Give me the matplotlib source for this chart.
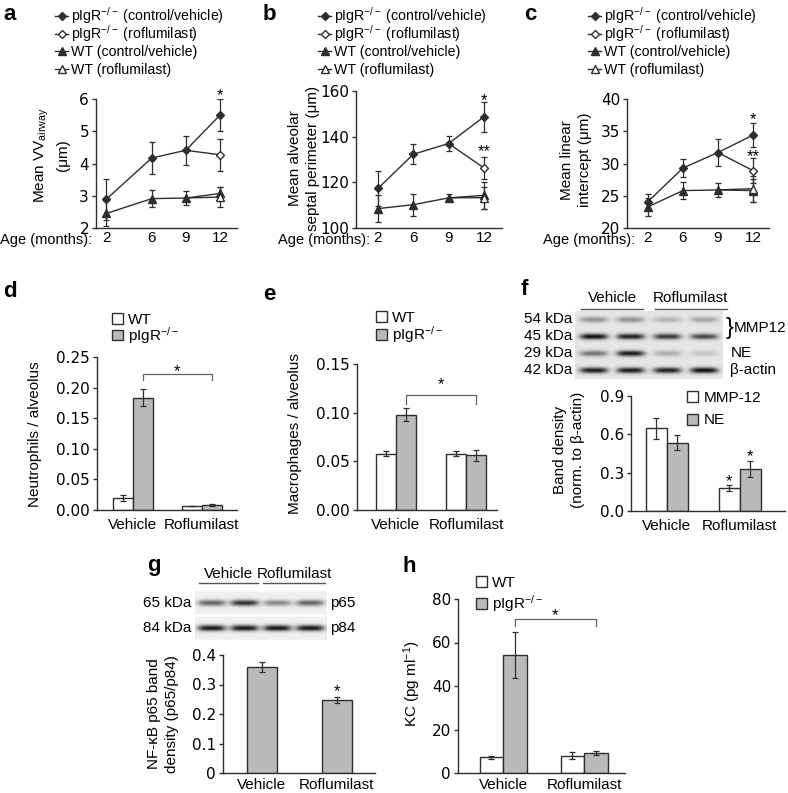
import numpy as np
import matplotlib.pyplot as plt
from matplotlib.patches import Patch
from matplotlib.lines import Line2D

plt.rcParams['font.family'] = ['Liberation Sans', 'DejaVu Sans']
plt.rcParams['mathtext.fontset'] = 'custom'
plt.rcParams['mathtext.rm'] = 'Liberation Sans'
plt.rcParams['mathtext.it'] = 'Liberation Sans:italic'
plt.rcParams['mathtext.bf'] = 'Liberation Sans:bold'
plt.rcParams['font.size'] = 11
plt.rcParams['axes.linewidth'] = 1.0

INK = '#2e2e2e'
GREY = '#bababa'
KO = r'pIgR$^{-/-}$'

# ---- a-c: lung morphometry by age ----
ages = [2, 6, 9, 12]
rofl_ages = [9, 12]

vv_ko_ctrl = [2.89, 4.17, 4.41, 5.50]
vv_ko_ctrl_err = [0.64, 0.50, 0.45, 0.50]
vv_ko_rofl = [4.41, 4.27]
vv_ko_rofl_err = [0.50]
vv_wt_ctrl = [2.45, 2.91, 2.93, 3.07]
vv_wt_ctrl_err = [0.38, 0.26, 0.22, 0.20]
vv_wt_rofl = [2.93, 2.96]
vv_wt_rofl_err = [0.31]

sp_ko_ctrl = [117.3, 132.3, 137.0, 148.7]
sp_ko_ctrl_err = [7.6, 4.3, 3.2, 6.5]
sp_ko_rofl = [137.0, 126.3]
sp_ko_rofl_err = [4.9]
sp_wt_ctrl = [108.5, 110.2, 113.2, 114.3]
sp_wt_ctrl_err = [6.0, 4.9, 1.5, 6.0]
sp_wt_rofl = [113.2, 113.3]
sp_wt_rofl_err = [4.8]

li_ko_ctrl = [24.1, 29.3, 31.7, 34.4]
li_ko_ctrl_err = [1.2, 1.35, 2.1, 1.9]
li_ko_rofl = [31.7, 28.9]
li_ko_rofl_err = [1.9]
li_wt_ctrl = [23.3, 25.8, 25.9, 25.8]
li_wt_ctrl_err = [1.4, 1.3, 1.1, 1.8]
li_wt_rofl = [25.9, 26.1]
li_wt_rofl_err = [2.0]

# ---- d-h: bar data ----
groups = ['Vehicle', 'Roflumilast']

neut_wt = [0.020, 0.0065]
neut_wt_err = [0.0045, 0.0006]
neut_ko = [0.1835, 0.0087]
neut_ko_err = [0.0135, 0.0015]

mac_wt = [0.058, 0.058]
mac_wt_err = [0.003, 0.003]
mac_ko = [0.098, 0.056]
mac_ko_err = [0.0068, 0.006]

mmp12 = [0.647, 0.178]
mmp12_err = [0.083, 0.025]
ne = [0.534, 0.329]
ne_err = [0.060, 0.065]

p65_ratio = [0.358, 0.247]
p65_ratio_err = [0.017, 0.011]

kc_wt = [7.2, 8.0]
kc_wt_err = [0.8, 1.7]
kc_ko = [54.1, 9.2]
kc_ko_err = [10.6, 1.1]

# western blot band darkness (rows x lanes)
blot_f_rows = ['54 kDa', '45 kDa', '29 kDa', '42 kDa']
blot_f = [[0.33, 0.33, 0.20, 0.26],
          [0.85, 0.78, 0.68, 0.62],
          [0.45, 0.80, 0.22, 0.14],
          [0.80, 0.80, 0.78, 0.85]]
blot_g_rows = ['65 kDa', '84 kDa']
blot_g = [[0.55, 0.75, 0.40, 0.55],
          [0.85, 0.85, 0.85, 0.85]]

W, H = 788, 793
fig = plt.figure(figsize=(W / 100, H / 100), dpi=100)


def px_axes(left, top, right, bottom):
    return fig.add_axes([left / W, 1 - bottom / H, (right - left) / W, (bottom - top) / H])


def fx(x):
    return x / W


def fy(y):
    return 1 - y / H


def style(ax, ylim, yticks, fmt=None, xpad=5.5):
    for s in ['top', 'right']:
        ax.spines[s].set_visible(False)
    for s in ['left', 'bottom']:
        ax.spines[s].set_color(INK)
    ax.set_ylim(*ylim)
    ax.set_yticks(yticks)
    if fmt:
        ax.set_yticklabels([fmt % t for t in yticks])
    ax.tick_params(axis='y', direction='out', length=3, width=1, pad=2, colors=INK,
                   labelcolor='black', labelfontfamily='DejaVu Sans', labelsize=11)
    ax.tick_params(axis='x', length=0, pad=xpad)


def star(ax, x, y, s='*'):
    # y is where the centre of the asterisk should sit
    ax.annotate(s, (x, y), xytext=(0, -7), textcoords='offset points',
                ha='center', va='baseline', fontsize=12, annotation_clip=False)


def line_panel(ax, xs, rx, ko_c, ko_ce, ko_r, ko_re, wt_c, wt_ce, wt_r, wt_re):
    ebkw = dict(fmt='none', ecolor=INK, elinewidth=0.9, capsize=2.5, capthick=0.9, zorder=2)
    ax.errorbar(xs, wt_c, yerr=wt_ce, **ebkw)
    ax.errorbar(rx[1:], wt_r[1:], yerr=wt_re, **ebkw)
    ax.errorbar(xs, ko_c, yerr=ko_ce, **ebkw)
    ax.errorbar(rx[1:], ko_r[1:], yerr=ko_re, **ebkw)
    ax.plot(xs, wt_c, color=INK, lw=1, marker='^', ms=6, mfc=INK, mec=INK, zorder=3)
    ax.plot(rx, wt_r, color=INK, lw=1, marker='^', ms=6, mfc='white', mec=INK, markevery=[1], zorder=3)
    ax.plot(xs, ko_c, color=INK, lw=1, marker='D', ms=4, mfc=INK, mec=INK, zorder=3)
    ax.plot(rx, ko_r, color=INK, lw=1, marker='D', ms=4, mfc='white', mec=INK, markevery=[1], zorder=3)
    ax.set_xticks(xs)
    ax.set_xticklabels([str(a) for a in ages])


def line_legend(x, y, step=17.7):
    # drawn by hand so that the rows are evenly spaced
    specs = [('D', 4, INK, KO + ' (control/vehicle)'),
             ('D', 4, 'white', KO + ' (roflumilast)'),
             ('^', 6, INK, 'WT (control/vehicle)'),
             ('^', 6, 'white', 'WT (roflumilast)')]
    for i, (m, ms, fc, lab) in enumerate(specs):
        yy = y + i * step
        fig.add_artist(Line2D([fx(x), fx(x + 13)], [fy(yy), fy(yy)], transform=fig.transFigure,
                              color=INK, lw=1))
        fig.add_artist(Line2D([fx(x + 6.5)], [fy(yy)], transform=fig.transFigure, ls='none',
                              marker=m, ms=ms, mfc=fc, mec=INK))
        fig.text(fx(x + 16), fy(yy + 5), lab, ha='left', va='baseline', fontsize=10.2)


def bar_panel(ax, series, errs, colors, width):
    x = np.arange(len(groups))
    n = len(series)
    for i, (v, e, c) in enumerate(zip(series, errs, colors)):
        off = (i - (n - 1) / 2) * width
        ax.bar(x + off, v, width, yerr=e, color=c, edgecolor=INK, lw=1, zorder=2,
               error_kw=dict(ecolor=INK, elinewidth=0.9, capsize=2.5, capthick=0.9))
    ax.set_xticks(x)
    ax.set_xticklabels(groups)


def square_legend(ax, labels, colors, x, y, spacing, size=11):
    handles = [Patch(facecolor=c, edgecolor=INK, lw=1) for c in colors]
    ax.legend(handles, labels, loc='upper left', bbox_to_anchor=(fx(x), fy(y)),
              bbox_transform=fig.transFigure, frameon=False, borderpad=0, borderaxespad=0,
              handlelength=0.72, handleheight=0.72, handletextpad=0.35,
              labelspacing=spacing, fontsize=size)


def bracket(ax, x0, x1, y, drop, star_y):
    ax.plot([x0, x0, x1, x1], [y - drop, y, y, y - drop], color='#666666', lw=0.9, clip_on=False)
    star(ax, (x0 + x1) / 2, star_y)


def draw_blot(ax, bands, band_w, band_h, bg, gap=0.5):
    nrow, nlane = len(bands), len(bands[0])
    X, Y = np.meshgrid(np.linspace(0, nlane, nlane * 40), np.linspace(0, nrow, nrow * 40))
    img = np.full(X.shape, bg)
    for r, row in enumerate(bands):
        for l, v in enumerate(row):
            img -= v * np.exp(-((X - l - 0.5) / band_w) ** 4) * np.exp(-((Y - r - 0.5) / band_h) ** 2)
    img[np.abs((Y % 1) - 0.5) > gap] = 1.0
    ax.imshow(np.clip(img, 0, 1), cmap='gray', vmin=0, vmax=1, extent=(0, nlane, nrow, 0),
              aspect='auto', interpolation='bilinear')
    ax.set_xlim(0, nlane)
    ax.set_ylim(nrow, 0)
    ax.axis('off')


def ylab(x, y, s, ls=1.45):
    fig.text(fx(x), fy(y), s, rotation=90, ha='center', va='center',
             multialignment='center', linespacing=ls, fontsize=11)


def letter(x, y, s):
    fig.text(fx(x), fy(y), s, fontsize=16, fontweight='bold', ha='left', va='center')


# ---- a ----
ax = px_axes(96, 99, 237, 228)
line_panel(ax, ages, rofl_ages, vv_ko_ctrl, vv_ko_ctrl_err, vv_ko_rofl, vv_ko_rofl_err,
           vv_wt_ctrl, vv_wt_ctrl_err, vv_wt_rofl, vv_wt_rofl_err)
style(ax, (2, 6), [2, 3, 4, 5, 6], xpad=2.5)
ax.set_xlim(1.1, 13.5)
star(ax, 12, 6.28)
line_legend(55, 16)
ylab(51, 155, 'Mean VV$_{\\mathrm{airway}}$\n(μm)')
fig.text(fx(92), fy(240), 'Age (months):', ha='right', va='center', fontsize=10.5)
letter(3, 15, 'a')

# ---- b ----
pos = list(range(len(ages)))
ax = px_axes(356, 91, 502, 228)
line_panel(ax, pos, pos[2:], sp_ko_ctrl, sp_ko_ctrl_err, sp_ko_rofl, sp_ko_rofl_err,
           sp_wt_ctrl, sp_wt_ctrl_err, sp_wt_rofl, sp_wt_rofl_err)
style(ax, (100, 160), [100, 120, 140, 160], xpad=2.5)
ax.set_xlim(-0.62, 3.51)
star(ax, 3, 158.2)
star(ax, 3, 135.6, '**')
line_legend(318, 16)
ylab(304, 158, 'Mean alveolar\nseptal perimeter (μm)')
fig.text(fx(370), fy(240), 'Age (months):', ha='right', va='center', fontsize=10.5)
letter(263, 15, 'b')

# ---- c ----
ax = px_axes(627, 99, 769, 228)
line_panel(ax, pos, pos[2:], li_ko_ctrl, li_ko_ctrl_err, li_ko_rofl, li_ko_rofl_err,
           li_wt_ctrl, li_wt_ctrl_err, li_wt_rofl, li_wt_rofl_err)
style(ax, (20, 40), [20, 25, 30, 35, 40], xpad=2.5)
ax.set_xlim(-0.6, 3.46)
star(ax, 3, 37.6)
star(ax, 3, 31.9, '**')
line_legend(588, 16)
ylab(576, 160, 'Mean linear\nintercept (μm)')
fig.text(fx(635), fy(240), 'Age (months):', ha='right', va='center', fontsize=10.5)
letter(524, 15, 'c')

# ---- d ----
w = 0.29
ax = px_axes(97, 357, 237, 510)
bar_panel(ax, [neut_wt, neut_ko], [neut_wt_err, neut_ko_err], ['white', GREY], w)
style(ax, (0, 0.25), [0, 0.05, 0.10, 0.15, 0.20, 0.25], '%.2f')
ax.set_xlim(-0.52, 1.51)
bracket(ax, w / 2, 1 + w / 2, 0.223, 0.011, 0.234)
square_legend(ax, ['WT', KO], ['white', GREY], 112, 313, -0.15)
ylab(35, 434, 'Neutrophils / alveolus')
letter(3, 292, 'd')

# ---- e ----
ax = px_axes(357, 364, 497, 510)
bar_panel(ax, [mac_wt, mac_ko], [mac_wt_err, mac_ko_err], ['white', GREY], w)
style(ax, (0, 0.15), [0, 0.05, 0.10, 0.15], '%.2f')
ax.set_xlim(-0.557, 1.443)
bracket(ax, w / 2, 1 + w / 2, 0.118, 0.009, 0.134)
square_legend(ax, ['WT', KO], ['white', GREY], 376, 311, -0.05)
ylab(295, 434, 'Macrophages / alveolus')
letter(263, 294, 'e')

# ---- f ----
ax = px_axes(631, 396, 785, 511)
bar_panel(ax, [mmp12, ne], [mmp12_err, ne_err], ['white', GREY], w)
style(ax, (0, 0.9), [0, 0.3, 0.6, 0.9], '%.1f')
ax.set_xlim(-0.49, 1.62)
star(ax, 1 - w / 2, 0.268)
star(ax, 1 + w / 2, 0.464)
square_legend(ax, ['MMP-12', 'NE'], ['white', GREY], 687, 391, 0.55)
ylab(569, 450, 'Band density\n(norm. to β-actin)', ls=1.35)
letter(521, 289, 'f')

bx = px_axes(575, 311, 723, 379)
draw_blot(bx, blot_f, 0.38, 0.17, 0.9)
for r, lab in enumerate(blot_f_rows):
    bx.text(-0.08, r + 0.5, lab, ha='right', va='center', fontsize=11, clip_on=False)
bx.text(4.08, 1.0, '}', ha='left', va='center', fontsize=17, clip_on=False)
bx.text(4.3, 1.0, 'MMP12', ha='left', va='center', fontsize=11, clip_on=False)
bx.text(4.2, 2.5, 'NE', ha='left', va='center', fontsize=11, clip_on=False)
bx.text(4.2, 3.5, 'β-actin', ha='left', va='center', fontsize=11, clip_on=False)
for (x0, x1), lab in zip([(0.15, 1.85), (2.15, 4.1)], groups):
    bx.plot([x0, x1], [-0.12, -0.12], color='#555555', lw=1, clip_on=False)
    bx.text((x0 + x1) / 2, -0.75, lab, ha='center', va='center', fontsize=11, clip_on=False)

# ---- g ----
ax = px_axes(223, 655, 375, 773)
bar_panel(ax, [p65_ratio], [p65_ratio_err], [GREY], 0.4)
style(ax, (0, 0.4), [0, 0.1, 0.2, 0.3, 0.4], xpad=3.5)
ax.set_yticklabels(['0', '0.1', '0.2', '0.3', '0.4'])
ax.set_xlim(-0.52, 1.51)
star(ax, 1, 0.293)
ylab(163, 714, 'NF-κB p65 band\ndensity (p65/p84)', ls=1.3)
letter(147, 565, 'g')

bx = px_axes(195, 590, 327, 641)
draw_blot(bx, blot_g, 0.43, 0.12, 0.94, gap=0.46)
for r, lab in enumerate(blot_g_rows):
    bx.text(-0.12, r + 0.5, lab, ha='right', va='center', fontsize=11, clip_on=False)
bx.text(4.08, 0.5, 'p65', ha='left', va='center', fontsize=11, clip_on=False)
bx.text(4.08, 1.5, 'p84', ha='left', va='center', fontsize=11, clip_on=False)
for (x0, x1), lab in zip([(0.12, 1.9), (2.06, 3.94)], groups):
    bx.plot([x0, x1], [-0.26, -0.26], color='#555555', lw=1, clip_on=False)
    bx.text((x0 + x1) / 2, -0.62, lab, ha='center', va='center', fontsize=11, clip_on=False)

# ---- h ----
ax = px_axes(458, 599, 625, 773)
bar_panel(ax, [kc_wt, kc_ko], [kc_wt_err, kc_ko_err], ['white', GREY], w)
style(ax, (0, 80), [0, 20, 40, 60, 80], xpad=3.5)
ax.set_xlim(-0.556, 1.506)
bracket(ax, w / 2, 1 + w / 2, 70.8, 3.2, 74.9)
square_legend(ax, ['WT', KO], ['white', GREY], 476, 576, 0.2)
ylab(412, 684, 'KC (pg ml$^{-1}$)')
letter(403, 567, 'h')

fig.savefig('out.png', dpi=100)
